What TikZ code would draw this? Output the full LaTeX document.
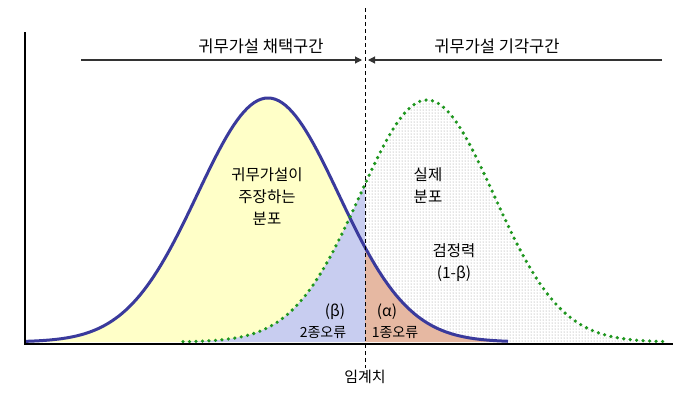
\documentclass[tikz,border=0pt]{standalone}
\usepackage{fontspec}
\newfontfamily\krfont{Noto Sans CJK KR}
\usetikzlibrary{arrows.meta,patterns}

\definecolor{nullblue}{HTML}{3A3A9C}
\definecolor{realgreen}{HTML}{1E961E}
\definecolor{accyellow}{HTML}{FFFFC8}
\definecolor{betafill}{HTML}{C8CDF0}
\definecolor{alphafill}{HTML}{E6B8A2}

\pgfmathdeclarefunction{hnull}{1}{\pgfmathparse{342-244*exp(-0.5*((#1-268)/70.5)^2)}}
\pgfmathdeclarefunction{hreal}{1}{\pgfmathparse{342-242*exp(-0.5*((#1-427)/67)^2)}}

\tikzset{
  lbl/.style={font=\krfont\fontsize{15.5}{22}\selectfont, align=center, inner sep=0pt},
  toplbl/.style={font=\krfont\fontsize{16.5}{20}\selectfont, inner sep=0pt},
  smalllbl/.style={font=\krfont\fontsize{14}{16}\selectfont, inner sep=0pt},
  zone/.style={line width=1.1pt, draw=black!80, -{Triangle[length=7pt,width=7pt]}}
}

\begin{document}
\begin{tikzpicture}[x=1pt,y=-1pt]
  \useasboundingbox (0,0) rectangle (688,392);

  \fill[accyellow] (25,342) -- plot[domain=25:365, samples=90] (\x,{hnull(\x)}) -- (365,342) -- cycle;
  \fill[betafill] (183,342) -- plot[domain=183:365, samples=60] (\x,{hreal(\x)}) -- (365,342) -- cycle;
  \fill[pattern=dots, pattern color=black!45] (365,342) -- plot[domain=365:667, samples=90] (\x,{hreal(\x)}) -- (667,342) -- cycle;
  \fill[alphafill] (365,342) -- plot[domain=365:508, samples=50] (\x,{hnull(\x)}) -- (508,342) -- cycle;

  \draw[nullblue, line width=3pt] plot[domain=25:508, samples=140] (\x,{hnull(\x)});
  \draw[realgreen, line width=3.6pt, line cap=round, dash pattern=on 0pt off 6.5pt] plot[domain=183:667, samples=140] (\x,{hreal(\x)});

  \draw[line width=2pt] (25,32) -- (25,344) -- (673,344);

  \coordinate (crittop) at (365,8);
  \coordinate (critbot) at (365,368);
  \coordinate (accstart) at (81,60);
  \coordinate (accend) at (362,60);
  \coordinate (rejstart) at (662,60);
  \coordinate (rejend) at (368,60);
  \draw[dashed, dash pattern=on 4pt off 3pt, line width=1pt] (crittop) -- (critbot);
  \draw[zone] (accstart) -- (accend);
  \draw[zone] (rejstart) -- (rejend);

  \node[toplbl] (acc) at (261,46) {귀무가설 채택구간};
  \node[toplbl] (rej) at (497,46) {귀무가설 기각구간};
  \node[lbl] (nulldist) at (267,197) {귀무가설이\\주장하는\\분포};
  \node[lbl] (realdist) at (428,186) {실제\\분포};
  \node[lbl] (power) at (454,263) {검정력\\(1-β)};
  \node[lbl] (beta) at (335,312) {(β)};
  \node[smalllbl] (typetwo) at (323,332) {2종오류};
  \node[lbl] (alpha) at (387,312) {(α)};
  \node[smalllbl] (typeone) at (395,332) {1종오류};
  \node[font=\krfont\fontsize{15}{18}\selectfont, inner sep=0pt] (crit) at (365,377) {임계치};
\end{tikzpicture}
\end{document}
